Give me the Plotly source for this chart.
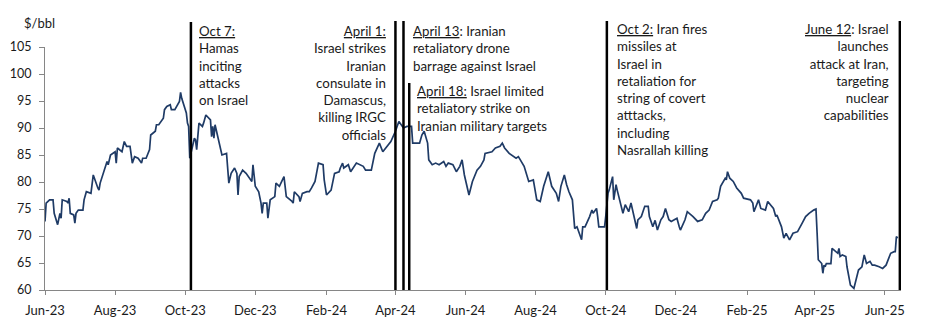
import plotly.graph_objects as go

# ---------------- data ----------------
dates = [
    "2023-06-01", "2023-06-02", "2023-06-05", "2023-06-08", "2023-06-09", "2023-06-12", "2023-06-14",
    "2023-06-15", "2023-06-16", "2023-06-20", "2023-06-21", "2023-06-22", "2023-06-23", "2023-06-26",
    "2023-06-27", "2023-06-28", "2023-06-30", "2023-07-04", "2023-07-05", "2023-07-07", "2023-07-11",
    "2023-07-13", "2023-07-17", "2023-07-18", "2023-07-19", "2023-07-21", "2023-07-25", "2023-07-26",
    "2023-07-28", "2023-08-01", "2023-08-02", "2023-08-03", "2023-08-07", "2023-08-09", "2023-08-11",
    "2023-08-14", "2023-08-16", "2023-08-18", "2023-08-21", "2023-08-24", "2023-08-25", "2023-08-28",
    "2023-08-31", "2023-09-01", "2023-09-05", "2023-09-06", "2023-09-08", "2023-09-12", "2023-09-13",
    "2023-09-15", "2023-09-18", "2023-09-19", "2023-09-22", "2023-09-26", "2023-09-27", "2023-09-28",
    "2023-10-02", "2023-10-03", "2023-10-04", "2023-10-05", "2023-10-09", "2023-10-10", "2023-10-11",
    "2023-10-13", "2023-10-16", "2023-10-17", "2023-10-19", "2023-10-23", "2023-10-24", "2023-10-25",
    "2023-10-26", "2023-10-27", "2023-10-31", "2023-11-02", "2023-11-06", "2023-11-08", "2023-11-10",
    "2023-11-13", "2023-11-15", "2023-11-16", "2023-11-17", "2023-11-20", "2023-11-23", "2023-11-27",
    "2023-11-28", "2023-11-29", "2023-12-01", "2023-12-04", "2023-12-06", "2023-12-07", "2023-12-08",
    "2023-12-11", "2023-12-12", "2023-12-14", "2023-12-18", "2023-12-19", "2023-12-22", "2023-12-26",
    "2023-12-28", "2024-01-02", "2024-01-03", "2024-01-04", "2024-01-08", "2024-01-09", "2024-01-11",
    "2024-01-15", "2024-01-17", "2024-01-19", "2024-01-22", "2024-01-25", "2024-01-29", "2024-01-30",
    "2024-02-01", "2024-02-05", "2024-02-08", "2024-02-12", "2024-02-13", "2024-02-15", "2024-02-16",
    "2024-02-20", "2024-02-22", "2024-02-27", "2024-03-01", "2024-03-04", "2024-03-06", "2024-03-11",
    "2024-03-14", "2024-03-18", "2024-03-21", "2024-03-25", "2024-03-27", "2024-03-28", "2024-04-01",
    "2024-04-04", "2024-04-08", "2024-04-11", "2024-04-15", "2024-04-16", "2024-04-22", "2024-04-24",
    "2024-04-26", "2024-04-29", "2024-04-30", "2024-05-03", "2024-05-06", "2024-05-09", "2024-05-13",
    "2024-05-15", "2024-05-17", "2024-05-21", "2024-05-24", "2024-05-27", "2024-05-29", "2024-05-31",
    "2024-06-04", "2024-06-07", "2024-06-11", "2024-06-14", "2024-06-17", "2024-06-18", "2024-06-24",
    "2024-06-27", "2024-07-01", "2024-07-03", "2024-07-05", "2024-07-09", "2024-07-15", "2024-07-17",
    "2024-07-22", "2024-07-24", "2024-07-26", "2024-07-30", "2024-08-02", "2024-08-05", "2024-08-08",
    "2024-08-12", "2024-08-15", "2024-08-19", "2024-08-21", "2024-08-23", "2024-08-26", "2024-08-28",
    "2024-08-30", "2024-09-02", "2024-09-03", "2024-09-04", "2024-09-06", "2024-09-10", "2024-09-11",
    "2024-09-13", "2024-09-17", "2024-09-19", "2024-09-20", "2024-09-23", "2024-09-24", "2024-09-25",
    "2024-09-27", "2024-09-30", "2024-10-01", "2024-10-03", "2024-10-04", "2024-10-07", "2024-10-08",
    "2024-10-10", "2024-10-11", "2024-10-15", "2024-10-16", "2024-10-18", "2024-10-21", "2024-10-23",
    "2024-10-24", "2024-10-28", "2024-10-29", "2024-11-01", "2024-11-04", "2024-11-07", "2024-11-08",
    "2024-11-11", "2024-11-13", "2024-11-15", "2024-11-18", "2024-11-20", "2024-11-22", "2024-11-25",
    "2024-11-27", "2024-11-29", "2024-12-02", "2024-12-04", "2024-12-05", "2024-12-09", "2024-12-11",
    "2024-12-16", "2024-12-20", "2024-12-24", "2024-12-27", "2024-12-30", "2025-01-02", "2025-01-06",
    "2025-01-07", "2025-01-09", "2025-01-13", "2025-01-14", "2025-01-15", "2025-01-17", "2025-01-20",
    "2025-01-23", "2025-01-27", "2025-01-29", "2025-02-03", "2025-02-04", "2025-02-06", "2025-02-07",
    "2025-02-11", "2025-02-13", "2025-02-17", "2025-02-19", "2025-02-24", "2025-02-26", "2025-02-27",
    "2025-03-03", "2025-03-05", "2025-03-07", "2025-03-10", "2025-03-13", "2025-03-17", "2025-03-19",
    "2025-03-21", "2025-03-24", "2025-03-27", "2025-03-31", "2025-04-02", "2025-04-03", "2025-04-04",
    "2025-04-07", "2025-04-08", "2025-04-09", "2025-04-10", "2025-04-11", "2025-04-15", "2025-04-16",
    "2025-04-21", "2025-04-22", "2025-04-23", "2025-04-25", "2025-04-28", "2025-04-29", "2025-05-01",
    "2025-05-02", "2025-05-05", "2025-05-07", "2025-05-09", "2025-05-12", "2025-05-14", "2025-05-16",
    "2025-05-19", "2025-05-21", "2025-05-23", "2025-05-27", "2025-05-30", "2025-06-02", "2025-06-04",
    "2025-06-06", "2025-06-09", "2025-06-10", "2025-06-11", "2025-06-12",
]
brent = [
    72.7, 76.1, 76.7, 76.7, 74.2, 72.1, 74.2,
    73.3, 76.7, 76.4, 76.1, 77.0, 74.2, 73.9,
    72.4, 74.2, 74.8, 74.8, 76.7, 78.2, 77.9,
    81.3, 78.9, 78.5, 79.8, 81.3, 83.8, 83.2,
    85.0, 85.6, 83.5, 86.3, 85.6, 87.5, 86.6,
    86.6, 83.5, 84.7, 84.4, 83.5, 84.4, 84.4,
    86.0, 88.7, 89.4, 90.6, 90.6, 91.8, 93.4,
    94.0, 94.3, 93.4, 93.4, 94.9, 96.6, 95.5,
    92.8, 90.9, 90.3, 84.4, 88.1, 87.8, 86.0,
    90.9, 90.3, 90.9, 92.4, 91.5, 88.4, 90.3,
    88.1, 90.6, 87.2, 85.0, 85.3, 79.8, 81.6,
    82.6, 81.6, 77.6, 81.0, 82.2, 81.6, 80.4,
    80.1, 83.2, 79.2, 78.2, 76.1, 74.2, 76.1,
    76.1, 73.3, 76.7, 77.3, 79.8, 79.2, 81.0,
    77.3, 76.4, 76.1, 78.2, 77.3, 76.4, 77.9,
    78.2, 78.2, 78.9, 80.1, 83.5, 83.2, 80.4,
    77.6, 78.5, 81.6, 81.9, 82.6, 83.5, 82.6,
    83.2, 81.9, 83.5, 83.2, 82.9, 82.2, 82.2,
    85.3, 87.2, 85.6, 86.6, 87.2, 87.5, 89.4,
    91.2, 90.0, 90.3, 90.3, 87.2, 87.2, 88.7,
    89.4, 87.2, 84.1, 83.2, 83.5, 83.2, 83.8,
    82.9, 83.5, 83.2, 81.9, 82.9, 84.1, 81.3,
    77.6, 80.1, 82.2, 82.9, 84.1, 85.3, 85.6,
    86.3, 86.6, 87.2, 86.3, 85.3, 84.4, 84.7,
    82.9, 81.6, 80.1, 80.4, 76.7, 76.4, 79.2,
    81.9, 79.2, 77.9, 76.4, 79.2, 81.3, 79.5,
    78.2, 76.7, 73.0, 71.4, 71.7, 69.3, 71.7,
    71.7, 73.6, 74.8, 74.2, 75.1, 73.6, 71.7,
    71.7, 71.7, 73.6, 77.9, 78.5, 81.0, 76.7,
    79.5, 78.5, 75.1, 74.2, 75.8, 74.5, 76.1,
    75.1, 71.4, 73.0, 73.6, 75.5, 75.5, 73.6,
    71.7, 72.9, 71.1, 73.0, 73.6, 75.1, 73.0,
    72.7, 73.0, 73.3, 71.7, 71.1, 73.0, 74.5,
    73.6, 72.7, 73.0, 74.2, 74.8, 76.4, 76.7,
    77.0, 79.2, 80.7, 80.4, 81.9, 80.7, 80.1,
    78.9, 77.9, 77.0, 76.7, 76.7, 76.1, 74.5,
    76.7, 75.1, 74.8, 76.4, 75.1, 73.6, 73.9,
    71.7, 69.6, 70.5, 69.3, 70.5, 70.8, 71.7,
    72.4, 73.6, 74.2, 74.8, 75.0, 70.5, 65.6,
    64.9, 63.1, 64.6, 64.3, 64.9, 64.9, 67.7,
    66.8, 67.7, 66.2, 66.5, 66.2, 64.3, 61.9,
    60.9, 60.3, 62.2, 63.7, 64.3, 66.5, 64.9,
    65.3, 64.6, 64.6, 64.3, 64.0, 64.6, 65.9,
    66.8, 67.1, 67.1, 69.9, 69.6,
]

tick_dates = ["2023-06-01", "2023-08-01", "2023-10-01", "2023-12-01", "2024-02-01", "2024-04-01",
              "2024-06-01", "2024-08-01", "2024-10-01", "2024-12-01", "2025-02-01", "2025-04-01",
              "2025-06-01"]
tick_labels = ["Jun-23", "Aug-23", "Oct-23", "Dec-23", "Feb-24", "Apr-24", "Jun-24", "Aug-24",
               "Oct-24", "Dec-24", "Feb-25", "Apr-25", "Jun-25"]
y_ticks = [60, 65, 70, 75, 80, 85, 90, 95, 100, 105]

# event markers (positions as drawn in the reference)
event_dates = ["2023-10-06", "2024-04-01", "2024-04-08", "2024-04-13", "2024-10-02", "2025-06-14"]
event_texts = [
    "<u>Oct 7:</u><br>Hamas<br>inciting<br>attacks<br>on Israel",
    "<u>April 1:</u><br>Israel strikes<br>Iranian<br>consulate in<br>Damascus,<br>killing IRGC<br>officials",
    "<u>April 13</u>: Iranian<br>retaliatory drone<br>barrage against Israel",
    "<u>April 18:</u> Israel limited<br>retaliatory strike on<br>Iranian military targets",
    "<u>Oct 2:</u> Iran fires<br>missiles at<br>Israel in<br>retaliation for<br>string of covert<br>atttacks,<br>including<br>Nasrallah killing",
    "<u>June 12</u>: Israel<br>launches<br>attack at Iran,<br>targeting<br>nuclear<br>capabilities",
]

# ---------------- layout geometry ----------------
W, H = 936, 328
L, R, T, B = 45, 35, 47, 38
PLOT_H = H - T - B
PLOT_W = W - L - R


def py(y_px):
    """pixel row -> paper coordinate"""
    return (H - B - y_px) / PLOT_H


FONT = "Lato, 'Open Sans', sans-serif"
TXT = "#1a1a1a"
AX = "#868686"

fig = go.Figure()
fig.add_trace(go.Scatter(x=dates, y=brent, mode="lines",
                         line=dict(color="#1f3b66", width=1.7), hoverinfo="x+y",
                         showlegend=False))

# vertical event lines: (top pixel)
line_tops = [22, 21, 21, 83, 21, 21]
for d, top in zip(event_dates, line_tops):
    fig.add_shape(type="line", xref="x", yref="paper", x0=d, x1=d, y0=0, y1=py(top),
                  line=dict(color="black", width=2.5), layer="above")

# annotation placements: (xanchor, xshift, align, top pixel)
ann_pos = [
    ("left", 7, "left", 22),
    ("right", -8, "right", 21.5),
    ("left", 9, "left", 21.5),
    ("left", 7, "left", 81.5),
    ("left", 9, "left", 19.5),
    ("right", -10, "right", 19.5),
]
for d, txt, (xa, xs, al, top) in zip(event_dates, event_texts, ann_pos):
    fig.add_annotation(x=d, xref="x", y=py(top), yref="paper", text=txt, showarrow=False,
                       xanchor=xa, yanchor="top", xshift=xs, align=al, borderpad=0,
                       font=dict(family=FONT, size=13.3, color=TXT))

fig.add_annotation(x=(22 - L) / PLOT_W, xref="paper", y=py(23), yref="paper",
                   text="$/bbl", showarrow=False, xanchor="left", yanchor="middle",
                   font=dict(family=FONT, size=13, color=TXT))

fig.update_layout(
    width=W, height=H,
    margin=dict(l=L, r=R, t=T, b=B, pad=0, autoexpand=False),
    paper_bgcolor="white", plot_bgcolor="white",
    font=dict(family=FONT, size=13, color=TXT),
    xaxis=dict(type="date", range=["2023-06-01", "2025-06-15"], automargin=False,
               tickmode="array", tickvals=tick_dates, ticktext=tick_labels,
               showgrid=False, zeroline=False, showline=True, linecolor=AX, linewidth=1.2,
               ticks="outside", ticklen=4, tickcolor=AX, tickwidth=1.2, ticklabelstandoff=4,
               tickfont=dict(family=FONT, size=13, color=TXT)),
    yaxis=dict(range=[60, 105], tickmode="array", tickvals=y_ticks, automargin=False,
               showgrid=False, zeroline=False, showline=True, linecolor=AX, linewidth=1.2,
               ticks="outside", ticklen=5, tickcolor=AX, tickwidth=1.2, ticklabelstandoff=5,
               tickfont=dict(family=FONT, size=12.5, color=TXT)),
)

fig.write_html("out.html")
